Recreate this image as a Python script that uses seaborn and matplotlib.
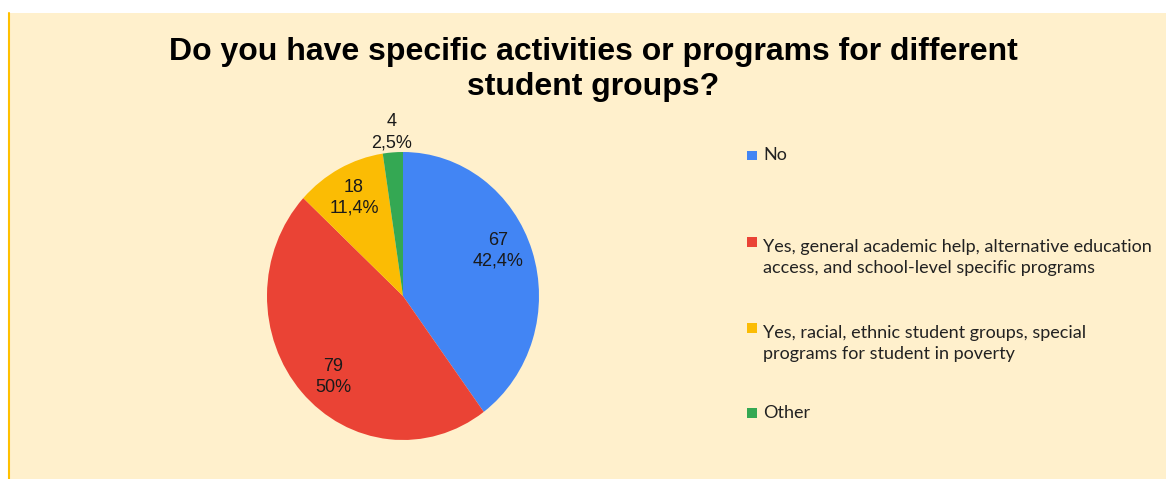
import numpy as np
import matplotlib
matplotlib.use("Agg")
import matplotlib.pyplot as plt
from matplotlib.patches import Rectangle
import seaborn as sns

# Survey answers
categories = [
    "No",
    "Yes, general academic help, alternative education\naccess, and school-level specific programs",
    "Yes, racial, ethnic student groups, special\nprograms for student in poverty",
    "Other",
]
counts = [67, 79, 18, 4]
percents = [42.4, 50, 11.4, 2.5]
colors = ["#4285F4", "#EA4335", "#FBBC04", "#34A853"]
title = "Do you have specific activities or programs for different\nstudent groups?"

sns.set_theme(style="white")
plt.rcParams["font.family"] = ["Liberation Sans", "DejaVu Sans"]

W, H = 1166, 479
fig = plt.figure(figsize=(W / 100, H / 100), dpi=100, facecolor="white")

# full-figure overlay in pixel coordinates (origin top-left)
bg = fig.add_axes([0, 0, 1, 1])
bg.set_xlim(0, W)
bg.set_ylim(H, 0)
bg.axis("off")
bg.add_patch(Rectangle((8, 13), W - 8, H - 13, facecolor="#FFF0CC", edgecolor="none", zorder=0))
bg.plot([8.5, 8.5], [13, H], color="#FFC000", lw=1.5, zorder=1)

# pie axes
cx, cy, rx, ry = 403, 296, 136, 144
pax = fig.add_axes([(cx - rx) / W, (H - cy - ry) / H, 2 * rx / W, 2 * ry / H])
wedges, _ = pax.pie(counts, colors=colors, startangle=90, counterclock=False,
                    wedgeprops=dict(linewidth=0))
pax.set_aspect("auto")
pax.set_xlim(-1, 1)
pax.set_ylim(-1, 1)
pax.axis("off")

# label placement: radial distance and angular nudge (degrees) per wedge
label_r = [0.77, 0.76, 0.77, 1.14]
label_shift = [6, 6, 0, 0]
for w, n, p, r, s in zip(wedges, counts, percents, label_r, label_shift):
    ang = np.deg2rad((w.theta1 + w.theta2) / 2 + s)
    txt = f"{n}\n{p:g}%".replace(".", ",")
    pax.text(r * np.cos(ang), r * np.sin(ang), txt, ha="center", va="center",
             fontsize=13, color="#1a1a1a", linespacing=1.3, clip_on=False)

# title (baseline given for the last line)
bg.text(593, 95, title, ha="center", va="baseline", fontsize=23, fontweight="bold",
        color="black", linespacing=1.2)

# legend entries; baseline given for the last line of each label
first_baselines = [160.5, 247, 333, 418]
line_step = 25.5
for lab, col, base in zip(categories, colors, first_baselines):
    nlines = lab.count("\n") + 1
    bg.add_patch(Rectangle((747, base - 10), 9.5, 9.5, facecolor=col, edgecolor="none"))
    bg.text(763, base + (nlines - 1) * line_step, lab, ha="left", va="baseline",
            fontsize=13.0, family=["Lato", "DejaVu Sans"], color="#222222",
            linespacing=1.36)

fig.savefig("out.png", dpi=100, facecolor="white")
